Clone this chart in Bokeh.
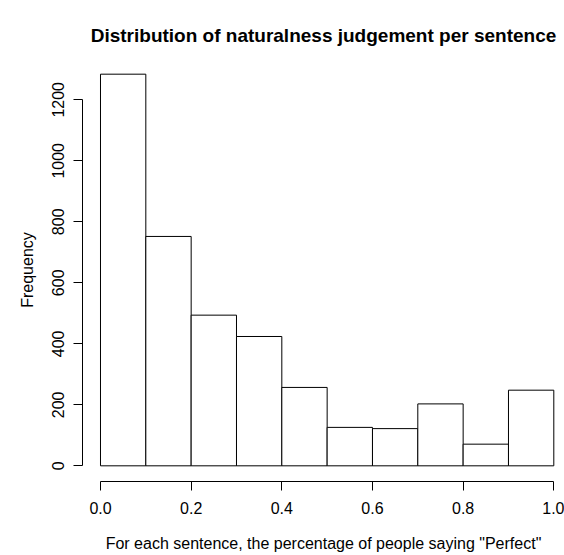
from bokeh.plotting import figure
from bokeh.models import Range1d, FixedTicker
from bokeh.embed import file_html
from bokeh.resources import INLINE

# Histogram data (bin edges and counts)
bin_left = [0.0, 0.1, 0.2, 0.3, 0.4, 0.5, 0.6, 0.7, 0.8, 0.9]
bin_right = [0.1, 0.2, 0.3, 0.4, 0.5, 0.6, 0.7, 0.8, 0.9, 1.0]
counts = [1284, 752, 494, 424, 257, 126, 122, 203, 71, 248]
x_ticks = [0.0, 0.2, 0.4, 0.6, 0.8, 1.0]
y_ticks = [0, 200, 400, 600, 800, 1000, 1200]

FONT = "Liberation Sans"

p = figure(width=564, height=555, output_backend="svg", toolbar_location=None,
           x_range=Range1d(-0.0397, 1.0236), y_range=Range1d(-51.4, 1335.4),
           min_border_left=82, min_border_right=0, min_border_top=58,
           min_border_bottom=74,
           title="Distribution of naturalness judgement per sentence")

p.quad(left=bin_left, right=bin_right, bottom=0, top=counts,
       fill_color="white", line_color="black", line_width=1)

p.outline_line_color = None
p.grid.visible = False
p.background_fill_color = "white"
p.border_fill_color = "white"

p.title.align = "center"
p.title.text_font = FONT
p.title.text_font_size = "19px"
p.title.text_font_style = "bold"
p.title.text_color = "black"
p.title.standoff = 26

for ax in (p.xaxis[0], p.yaxis[0]):
    ax.axis_line_color = "black"
    ax.major_tick_line_color = "black"
    ax.minor_tick_line_color = None
    ax.major_tick_out = 9
    ax.major_tick_in = 0
    ax.major_label_text_font = FONT
    ax.major_label_text_font_size = "16px"
    ax.major_label_text_color = "black"
    ax.axis_label_text_font = FONT
    ax.axis_label_text_font_size = "16px"
    ax.axis_label_text_font_style = "normal"
    ax.axis_label_text_color = "black"

xa = p.xaxis[0]
xa.ticker = FixedTicker(ticks=x_ticks)
xa.bounds = (0, 1)
xa.axis_label = 'For each sentence, the percentage of people saying "Perfect"'
xa.major_label_standoff = 11
xa.axis_label_standoff = 18
xa.major_label_overrides = {0: "0.0", 1: "1.0"}

ya = p.yaxis[0]
ya.ticker = FixedTicker(ticks=y_ticks)
ya.bounds = (0, 1200)
ya.axis_label = "Frequency"
ya.major_label_orientation = "parallel"
ya.major_label_standoff = 9
ya.axis_label_standoff = 14

open("out.html", "w").write(file_html(p, INLINE))
